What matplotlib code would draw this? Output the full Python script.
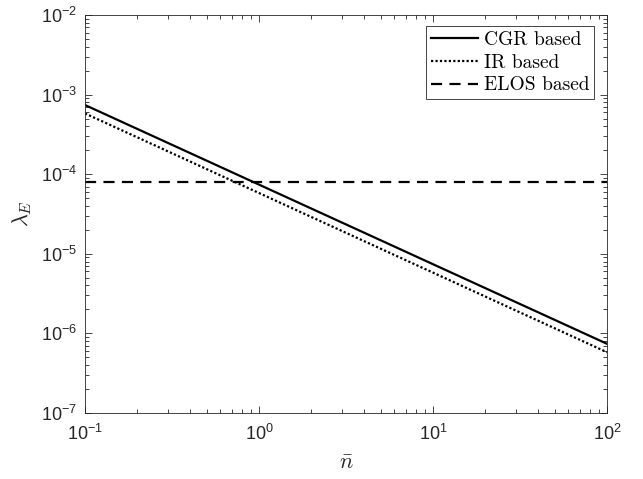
import matplotlib
matplotlib.use("Agg")
import matplotlib.pyplot as plt
import numpy as np

# Data
n_bar = [0.1, 100.0]
cgr_based = [7.4e-4, 7.4e-7]
ir_based = [5.8e-4, 5.8e-7]
elos_based = [8.0e-5, 8.0e-5]
series_labels = ["CGR based", "IR based", "ELOS based"]

plt.rcParams['mathtext.fontset'] = 'cm'
axcol = '#262626'

fig = plt.figure(figsize=(6.43, 4.79), dpi=100)
ax = fig.add_axes([85/643, 1-413/479, (607-85)/643, (413-15)/479])

ax.plot(n_bar, cgr_based, color='black', lw=1.6, ls='-', label=series_labels[0])
ax.plot(n_bar, ir_based, color='black', lw=1.6, ls=(0, (1, 1)), label=series_labels[1])
ax.plot(n_bar, elos_based, color='black', lw=1.6, ls=(0, (5, 3.3)), label=series_labels[2])

ax.set_xscale('log')
ax.set_yscale('log')
ax.set_xlim(0.1, 100)
ax.set_ylim(1e-7, 1e-2)

for s in ax.spines.values():
    s.set_color(axcol)
    s.set_linewidth(0.6)
ax.tick_params(which='both', direction='in', top=True, right=True, colors=axcol, width=0.6)
ax.tick_params(which='major', length=5, labelsize=13)
ax.tick_params(axis='x', which='major', pad=8)
ax.tick_params(axis='y', which='major', pad=6)
ax.tick_params(which='minor', length=3)
ax.set_yticks([1e-7, 1e-6, 1e-5, 1e-4, 1e-3, 1e-2])
ax.set_xticks([0.1, 1, 10, 100])
for lab in ax.get_xticklabels() + ax.get_yticklabels():
    lab.set_fontfamily('Liberation Sans')
    lab.set_color(axcol)

ax.set_xlabel(r'$\bar{n}$', fontsize=16, color=axcol, labelpad=6)
ax.set_ylabel(r'$\lambda_E$', fontsize=16, color=axcol, labelpad=5)

leg = ax.legend(loc='upper right', bbox_to_anchor=((594-85)/522, 1-(26-15)/398),
                borderaxespad=0, fancybox=False, framealpha=1, edgecolor=axcol,
                prop={'family': 'cmr10', 'size': 14}, handlelength=2.4,
                handletextpad=0.3, borderpad=0.25, labelspacing=0.25)
leg.get_frame().set_linewidth(0.6)

fig.savefig('out.png', dpi=100)
